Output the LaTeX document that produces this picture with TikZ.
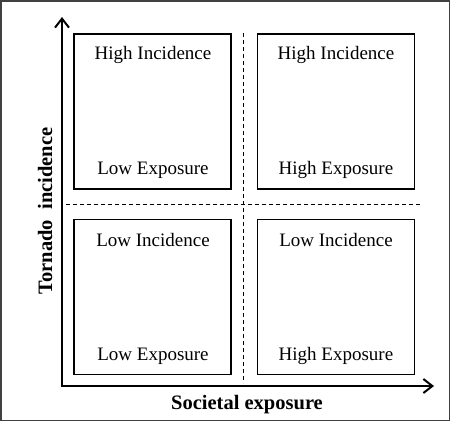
\documentclass[tikz,border=0pt]{standalone}
\usepackage{fontspec}
\setmainfont{Liberation Serif}
\usetikzlibrary{arrows.meta}
\begin{document}
\begin{tikzpicture}[x=1pt,y=-1pt,
  frame/.style={draw=black!75,line width=1.5pt},
  quad/.style={draw=black,line width=1.2pt,minimum width=157pt,minimum height=155pt,inner sep=0pt},
  lbl/.style={font=\fontsize{19pt}{20pt}\selectfont,inner sep=0pt,anchor=base},
  axis/.style={line width=2.6pt,-{Straight Barb[length=9pt,width=14pt,line width=2pt]}},
  sep/.style={line width=1pt,dash pattern=on 4pt off 3pt},
  axlbl/.style={font=\fontsize{20.5pt}{22pt}\selectfont\bfseries,inner sep=0pt}]
\useasboundingbox (0,0) rectangle (450,421);
\draw[frame] (0.75,0.75) rectangle (449.25,420.25);
% boxes
\node[quad] (tl) at (152.5,111.5) {};
\node[quad] (tr) at (336,111.5) {};
\node[quad] (bl) at (152.5,297) {};
\node[quad] (br) at (336,297) {};
% dashed separators
\coordinate (vt) at (243,33);
\coordinate (vb) at (243,383);
\coordinate (hl) at (66,204);
\coordinate (hr) at (420,204);
\draw[sep] (vt) -- (vb);
\draw[sep] (hl) -- (hr);
% labels
\node[lbl] (tl1) at (153,59) {High Incidence};
\node[lbl] (tl2) at (153,174) {Low Exposure};
\node[lbl] (tr1) at (336,59) {High Incidence};
\node[lbl] (tr2) at (336,174) {High Exposure};
\node[lbl] (bl1) at (153,246) {Low Incidence};
\node[lbl] (bl2) at (153,360) {Low Exposure};
\node[lbl] (br1) at (336,246) {Low Incidence};
\node[lbl] (br2) at (336,360) {High Exposure};
% axes
\coordinate (o) at (62,386);
\coordinate (ytip) at (62,17);
\coordinate (xtip) at (434,386);
\draw[axis] (o) -- (ytip);
\draw[axis] ([xshift=-1.3pt]o) -- (xtip);
\node[axlbl] (xl) at (247,405) {Societal exposure};
\node[axlbl,rotate=90] (yl) at (45,211) {Tornado\ \ incidence};
\end{tikzpicture}
\end{document}
